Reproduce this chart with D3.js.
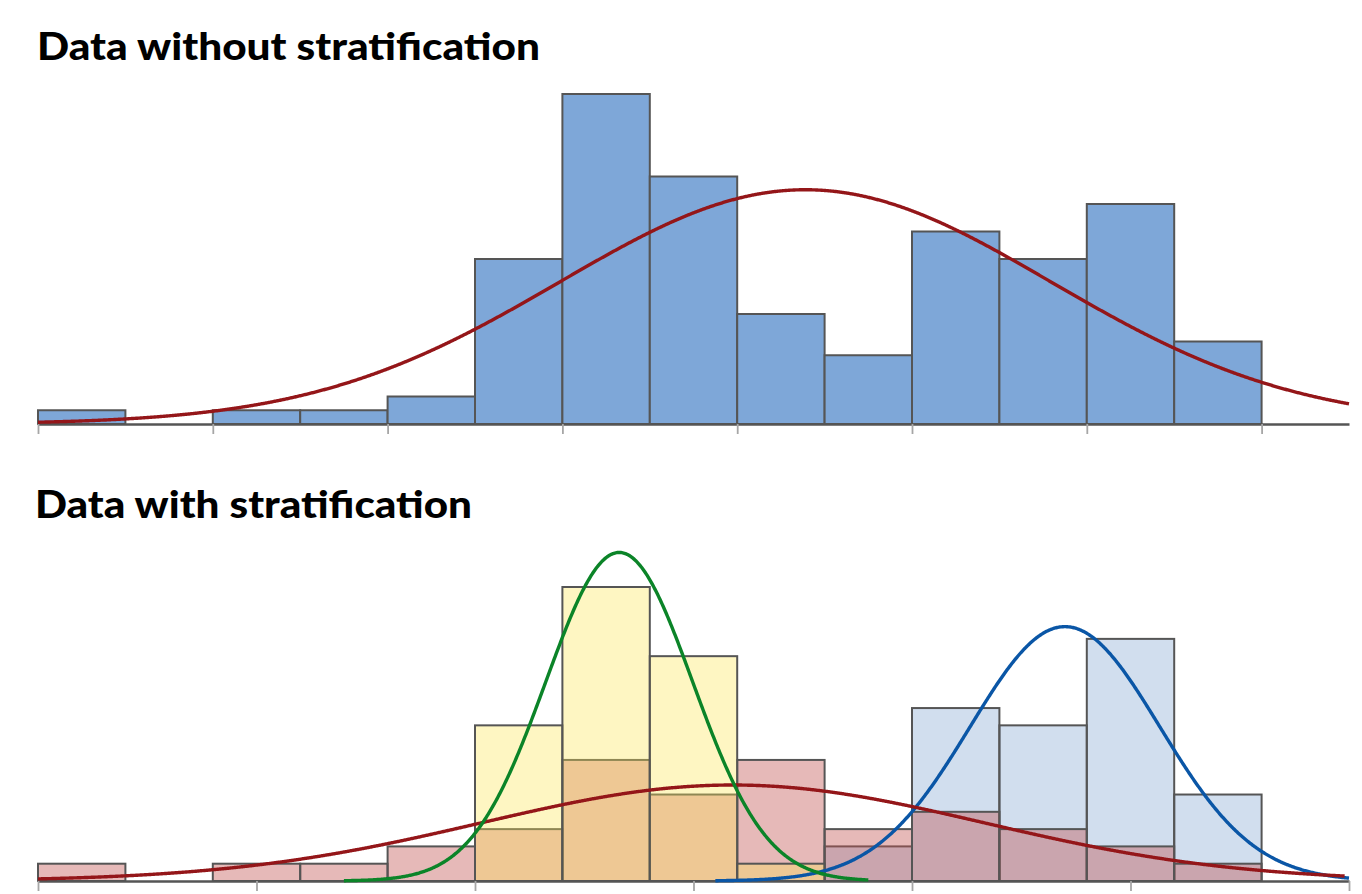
<!DOCTYPE html>
<html>
<head>
<meta charset="utf-8">
<script src="https://cdn.jsdelivr.net/npm/d3@7"></script>
<style>
  html, body { margin: 0; padding: 0; background: #ffffff; }
  svg { display: block; }
</style>
</head>
<body>
<svg id="chart" width="1362" height="894"></svg>
<script>
// ---------------- DATA ----------------
// histogram bins (bin index 0..13 on a 0..15 bin-unit axis)
const binStarts = [0,1,2,3,4,5,6,7,8,9,10,11,12,13];
// counts of all data (no stratification)
const allCounts    = [1,0,1,1,2,12,24,18,8,5,14,12,16,6];
// stratified counts
const redCounts    = [1,0,1,1,2,3,7,5,7,3,4,3,2,1];
const yellowCounts = [0,0,0,0,0,9,17,13,1,0,0,0,0,0];
const blueCounts   = [0,0,0,0,0,0,0,0,0,2,10,9,14,5];
// tick positions (bin units)
const topTicks    = [0,2,4,6,8,10,12,14];
const bottomTicks = [0,2.5,5,7.5,10,12.5,15];
// fitted normal curves: all, red stratum, yellow stratum, blue stratum
const fitMeans = [8.78, 7.95, 6.65, 11.75];
const fitSds   = [2.81, 2.875, 0.84, 1.085];
const fitN     = [120, 40, 40, 40];
const fitFrom  = [0, 0, 3.5, 7.75];
const fitTo    = [15, 14.95, 9.5, 15];
const titles = ["Data without stratification", "Data with stratification"];

// ---------------- DRAW ----------------
const svg = d3.select("#chart");
const GRAY = "#555555";
const TICK = "#a6a6a6";
const BW = 2;

const x = d3.scaleLinear().domain([0, 15]).range([38, 1349]);
const yTop = d3.scaleLinear().domain([0, 24]).range([424, 94]);
const yBot = d3.scaleLinear().domain([0, 17]).range([881, 587]);

function normalCurve(i, yScale) {
  const m = fitMeans[i], s = fitSds[i], n = fitN[i];
  const pts = d3.range(fitFrom[i], fitTo[i] + 1e-9, 0.01).map(v => {
    const d = n / (s * Math.sqrt(2 * Math.PI)) * Math.exp(-0.5 * ((v - m) / s) ** 2);
    return [x(v), yScale(d)];
  });
  return d3.line()(pts);
}

function drawBars(g, counts, yScale, fill, opacity) {
  const data = binStarts.map((b, i) => ({ b, c: counts[i] })).filter(d => d.c > 0);
  g.selectAll(null).data(data).enter().append("rect")
    .attr("x", d => x(d.b))
    .attr("width", d => x(d.b + 1) - x(d.b))
    .attr("y", d => yScale(d.c))
    .attr("height", d => yScale(0) - yScale(d.c))
    .attr("fill", fill)
    .attr("fill-opacity", opacity)
    .attr("stroke", GRAY)
    .attr("stroke-width", BW);
}

function drawAxis(g, yScale, ticks) {
  const ax = d3.axisBottom(x).tickValues(ticks).tickFormat("").tickSize(10).tickSizeOuter(0);
  const a = g.append("g").attr("transform", `translate(0,${yScale(0)})`).call(ax);
  a.select(".domain").attr("stroke", GRAY).attr("stroke-width", 2.4);
  a.selectAll(".tick line").attr("stroke", TICK).attr("stroke-width", 1.8);
}

function drawCurve(g, i, yScale, color) {
  g.append("path").attr("d", normalCurve(i, yScale))
    .attr("fill", "none").attr("stroke", color).attr("stroke-width", 3.4)
    .attr("stroke-linejoin", "round");
}

// titles
svg.append("text").attr("x", 37).attr("y", 60)
  .attr("font-family", "Lato, 'Open Sans', sans-serif").attr("font-weight", 900)
  .attr("font-size", 37).attr("textLength", 503).attr("lengthAdjust", "spacingAndGlyphs")
  .attr("fill", "#000").text(titles[0]);
svg.append("text").attr("x", 35).attr("y", 518)
  .attr("font-family", "Lato, 'Open Sans', sans-serif").attr("font-weight", 900)
  .attr("font-size", 37).attr("textLength", 437).attr("lengthAdjust", "spacingAndGlyphs")
  .attr("fill", "#000").text(titles[1]);

// top chart
const gTop = svg.append("g");
drawBars(gTop, allCounts, yTop, "#7ea7d8", 1);
drawAxis(gTop, yTop, topTicks);
drawCurve(gTop, 0, yTop, "#941619");

// bottom chart
const gBot = svg.append("g");
drawBars(gBot, blueCounts, yBot, "#4f81bd", 0.26);
drawBars(gBot, redCounts, yBot, "#c0504d", 0.4);
drawBars(gBot, yellowCounts, yBot, "#fce551", 0.35);
drawAxis(gBot, yBot, bottomTicks);
drawCurve(gBot, 3, yBot, "#0a56a6");
drawCurve(gBot, 1, yBot, "#941619");
drawCurve(gBot, 2, yBot, "#0b8428");
</script>
</body>
</html>
